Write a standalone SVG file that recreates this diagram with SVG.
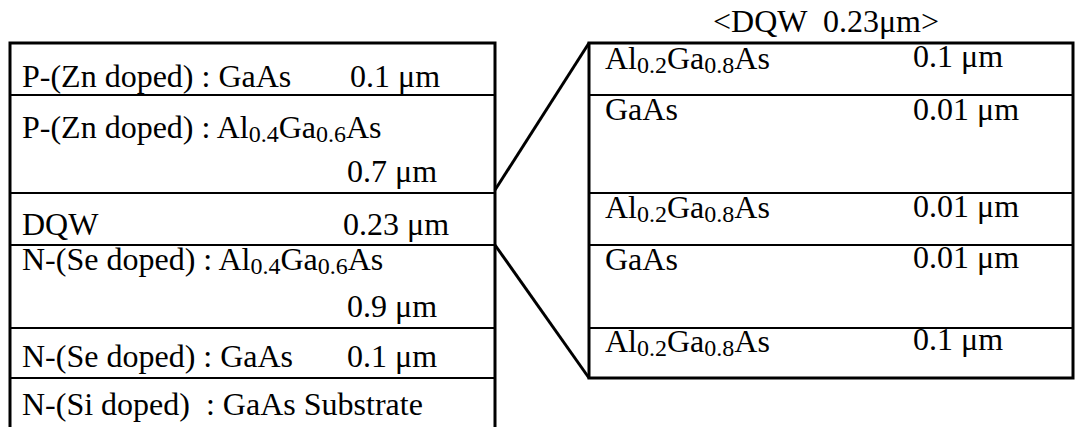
<svg xmlns="http://www.w3.org/2000/svg" width="1076" height="427" viewBox="0 0 1076 427">
<style>
text{font-family:"Liberation Serif","Times New Roman",serif;font-size:32px;fill:#000}
.sub{font-size:24px}
.frame{fill:none;stroke:#000;stroke-width:3}
.div{fill:none;stroke:#000;stroke-width:2.2}
.conn{fill:none;stroke:#000;stroke-width:3}
</style>
<rect width="1076" height="427" fill="#fff"/>
<g id="stack">
<path class="frame" d="M10,430 V43 H495 V430"/>
<g id="p-gaas">
<text x="22" y="87">P-(Zn doped) : GaAs</text>
<text x="350" y="87">0.1 μm</text>
</g>
<g id="p-algaas">
<line class="div" x1="10" y1="95" x2="495" y2="95"/>
<text x="22" y="138">P-(Zn doped) : Al<tspan class="sub" dy="4">0.4</tspan><tspan dy="-4">Ga</tspan><tspan class="sub" dy="4">0.6</tspan><tspan dy="-4">As</tspan></text>
<text x="347" y="182">0.7 μm</text>
</g>
<g id="dqw">
<line class="div" x1="10" y1="193" x2="495" y2="193"/>
<text x="22" y="235">DQW</text>
<text x="343" y="235">0.23 μm</text>
</g>
<g id="n-algaas">
<line class="div" x1="10" y1="245" x2="495" y2="245"/>
<text x="22" y="270">N-(Se doped) : Al<tspan class="sub" dy="4">0.4</tspan><tspan dy="-4">Ga</tspan><tspan class="sub" dy="4">0.6</tspan><tspan dy="-4">As</tspan></text>
<text x="347" y="317">0.9 μm</text>
</g>
<g id="n-gaas">
<line class="div" x1="10" y1="328" x2="495" y2="328"/>
<text x="22" y="367">N-(Se doped) : GaAs</text>
<text x="347" y="367">0.1 μm</text>
</g>
<g id="substrate">
<line class="div" x1="10" y1="378" x2="495" y2="378"/>
<text x="22" y="415" xml:space="preserve">N-(Si doped)  : GaAs Substrate</text>
</g>
</g>
<g id="dqw-detail">
<text x="713" y="32" xml:space="preserve">&lt;DQW  0.23μm&gt;</text>
<rect class="frame" x="589" y="43" width="484" height="335"/>
<g id="barrier1">
<text x="605" y="69">Al<tspan class="sub" dy="4">0.2</tspan><tspan dy="-4">Ga</tspan><tspan class="sub" dy="4">0.8</tspan><tspan dy="-4">As</tspan></text>
<text x="913" y="67">0.1 μm</text>
</g>
<g id="well1">
<line class="div" x1="589" y1="95" x2="1073" y2="95"/>
<text x="605" y="120">GaAs</text>
<text x="913" y="120">0.01 μm</text>
</g>
<g id="barrier2">
<line class="div" x1="589" y1="193" x2="1073" y2="193"/>
<text x="605" y="218">Al<tspan class="sub" dy="4">0.2</tspan><tspan dy="-4">Ga</tspan><tspan class="sub" dy="4">0.8</tspan><tspan dy="-4">As</tspan></text>
<text x="913" y="217">0.01 μm</text>
</g>
<g id="well2">
<line class="div" x1="589" y1="245" x2="1073" y2="245"/>
<text x="605" y="270">GaAs</text>
<text x="913" y="268">0.01 μm</text>
</g>
<g id="barrier3">
<line class="div" x1="589" y1="328" x2="1073" y2="328"/>
<text x="605" y="352">Al<tspan class="sub" dy="4">0.2</tspan><tspan dy="-4">Ga</tspan><tspan class="sub" dy="4">0.8</tspan><tspan dy="-4">As</tspan></text>
<text x="913" y="350">0.1 μm</text>
</g>
</g>
<g id="connectors">
<line class="conn" x1="495" y1="190" x2="589" y2="43"/>
<line class="conn" x1="495" y1="245" x2="589" y2="378"/>
</g>
</svg>
